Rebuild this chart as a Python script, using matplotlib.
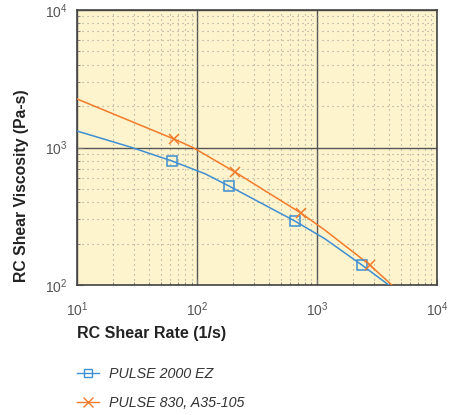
import matplotlib
matplotlib.use('Agg')
import matplotlib.pyplot as plt
from matplotlib.ticker import LogLocator, NullFormatter

plt.rcParams['font.family'] = ['Liberation Sans', 'DejaVu Sans']

# curves (shear rate 1/s, viscosity Pa-s)
ez_curve_x = [10, 28.7, 61.9, 116.6, 185, 656, 1166, 2371, 3981]
ez_curve_y = [1318, 1000, 798, 645, 525, 292, 217, 140, 100]
a35_curve_x = [10, 64.3, 92.6, 207, 735, 1166, 2765, 4217]
a35_curve_y = [2254, 1153, 1000, 664, 334, 251, 140, 100]

# marker points
ez_mark_x = [61.9, 185, 656, 2371]
ez_mark_y = [798, 525, 292, 140]
a35_mark_x = [64.3, 207, 735, 2765]
a35_mark_y = [1153, 664, 334, 140]

blue = '#3F8FD2'
orange = '#F37B2A'

fig = plt.figure(figsize=(4.56, 4.15), dpi=100)
ax = fig.add_axes([0.169, 0.313, 0.789, 0.663])
ax.set_facecolor('#FDF3CD')

ax.plot(ez_curve_x, ez_curve_y, color=blue, lw=1.1, zorder=3)
ax.plot(ez_mark_x, ez_mark_y, ls='none', marker='s', ms=6.5, mfc='none',
        mec=blue, mew=1.1, zorder=4)
ax.plot(a35_curve_x, a35_curve_y, color=orange, lw=1.1, zorder=3)
ax.plot(a35_mark_x, a35_mark_y, ls='none', marker='x', ms=7,
        mec=orange, mew=1.1, zorder=4)

ax.set_xscale('log')
ax.set_yscale('log')
ax.set_xlim(10, 1e4)
ax.set_ylim(100, 1e4)

ax.xaxis.set_minor_locator(LogLocator(base=10, subs=range(2, 10)))
ax.yaxis.set_minor_locator(LogLocator(base=10, subs=range(2, 10)))
ax.xaxis.set_minor_formatter(NullFormatter())
ax.yaxis.set_minor_formatter(NullFormatter())

ax.grid(which='major', color='#555555', lw=1.0, ls='-', zorder=1)
ax.grid(which='minor', color='#a0a096', lw=0.8, ls=(0, (1, 3.5)), zorder=1)

for s in ax.spines.values():
    s.set_color('#444444')
    s.set_linewidth(1.2)

ax.tick_params(which='both', direction='in', colors='#777777', labelcolor='#555555',
               labelsize=10)
ax.tick_params(which='major', length=4)
ax.tick_params(which='minor', length=2)
ax.tick_params(axis='x', pad=11)
ax.tick_params(axis='y', pad=7)

ax.set_xlabel('RC Shear Rate (1/s)', fontsize=11.5, fontweight='bold',
              color='#222222', loc='left', labelpad=5)
ax.set_ylabel('RC Shear Viscosity (Pa-s)', fontsize=11.3, fontweight='bold',
              color='#222222')
ax.yaxis.set_label_coords(-0.133, 0.36)

h1, = ax.plot([], [], color=blue, lw=1.0, marker='s', ms=6, mfc='none', mec=blue)
h2, = ax.plot([], [], color=orange, lw=1.0, marker='x', ms=7, mec=orange)
fig.legend([h1, h2], ['PULSE 2000 EZ', 'PULSE 830, A35-105'],
           loc='upper left', bbox_to_anchor=(0.14, 0.146), frameon=False,
           prop={'style': 'italic', 'size': 10.3}, labelcolor='#333333',
           handlelength=1.55, handletextpad=0.7, labelspacing=1.05)

fig.savefig('out.png', dpi=100)
